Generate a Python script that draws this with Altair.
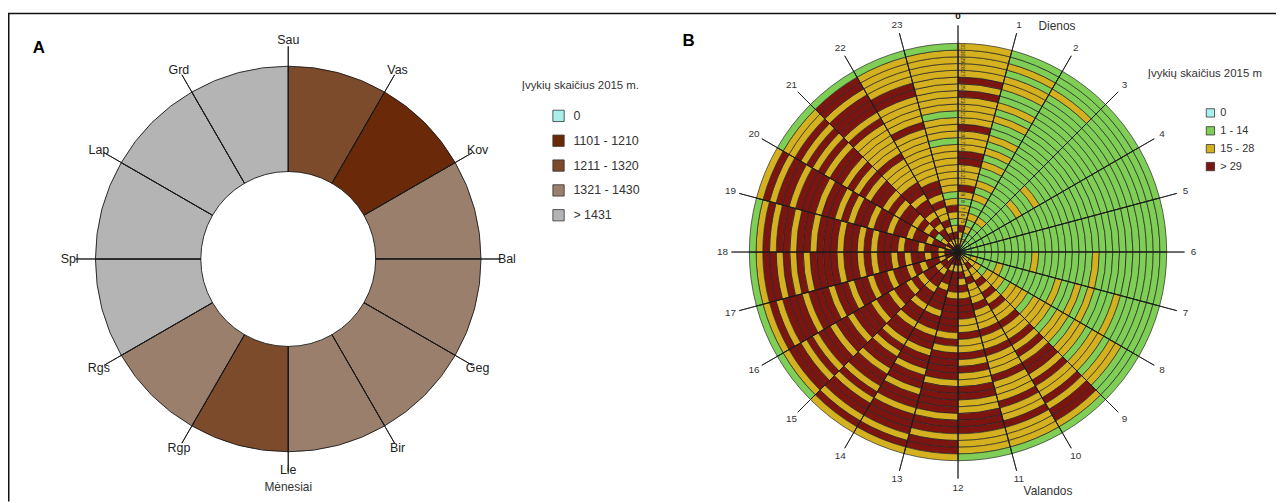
import math
import altair as alt
import pandas as pd

FONT = "Liberation Sans"
OFF = 8  # page margin

# ---------------- Panel A data (months) ----------------
MONTHS = ["Sau", "Vas", "Kov", "Bal", "Geg", "Bir", "Lie", "Rgp", "Rgs", "Spl", "Lap", "Grd"]
MONTH_EVENTS = [1265, 1150, 1385, 1370, 1400, 1395, 1290, 1380, 1470, 1495, 1480, 1455]
A_CLASSES = ["0", "1101 - 1210", "1211 - 1320", "1321 - 1430", "> 1431"]
A_COLORS = ["#a9efe9", "#6a2a09", "#7b4b2c", "#9b7f6d", "#b4b4b4"]

# ---------------- Panel B data (hour x day) ----------------
HOURS = list(range(24))
DAYS = list(range(1, 32))
B_CLASSES = ["0", "1 - 14", "15 - 28", "> 29"]
B_COLORS = ["#aaf0f0", "#7fcf56", "#d5b01f", "#7c1410"]
B_CODES = {"Z": "0", "G": "1 - 14", "Y": "15 - 28", "R": "> 29"}
# one string per hour, one letter per day (day 1 = inner ring ... day 31 = outer ring)
HOUR_DAYS = [
    "YYYRY" "YYGYR" "YYYRR" "YYYRY" "YYYRY" "RYYYY" "Y",  # 0
    "GYGYG" "YGGYG" "YGGYG" "YGYGG" "YGYGG" "YYGYG" "G",  # 1
    "GGGGG" "YGGGG" "GGGGG" "GGGGG" "GGGGG" "GGYGG" "G",  # 2
    "GGGGG" "GGGGG" "YGGYG" "GGGGG" "GGGGG" "GGGGG" "G",  # 3
    "GGGGG" "GGGGG" "GGGGG" "GGGGG" "GGGGG" "GGGGG" "G",  # 4
    "GGGGG" "GGGGG" "GGGGG" "GGGGG" "GGGGG" "GGGGG" "G",  # 5
    "GGGGG" "GGGGG" "GYGGG" "GGGGG" "YGGGG" "GGGGG" "G",  # 6
    "GGYGG" "GYGGG" "GGGGG" "YGGYG" "YGGGY" "GGGGG" "G",  # 7
    "YYYYG" "YYYGY" "YYGYY" "YGYYG" "YYGYY" "GYYGG" "G",  # 8
    "YYRYY" "RYRYR" "YYRYY" "RYRYR" "RYRYY" "RYRRY" "G",  # 9
    "YYYYR" "YYYRY" "YYRYY" "RYYYR" "YYYRY" "YRYYY" "G",  # 10
    "YRYRY" "RYRRR" "YYRYY" "RYRYY" "RRYYR" "RRYYY" "G",  # 11
    "RRYRR" "RYRRR" "RRYRY" "RRRRY" "RRRRY" "RRYRR" "Y",  # 12
    "RRYRR" "YRRRY" "RRYRR" "YRRYR" "RYRRY" "RRRYR" "Y",  # 13
    "RRRYR" "RYRRY" "RRYRR" "YRYRR" "YRRYR" "YRRYR" "Y",  # 14
    "RYRYR" "RYRYR" "RYRRY" "RRRYR" "RYRRY" "RYRRY" "G",  # 15
    "RRYRR" "YRYRR" "YRRYR" "RYRRY" "RRRYR" "RRYRY" "G",  # 16
    "RRYRY" "RRYRY" "RRYRY" "RRYRR" "RRYRY" "RYRRY" "G",  # 17
    "YRYRR" "YRRYR" "RRYRY" "RRYRR" "RYRRY" "RRYRY" "G",  # 18
    "RYRRY" "RRYRR" "YRRYR" "RYRYR" "RYRRR" "YRRYR" "Y",  # 19
    "RRYGR" "YRYRR" "YRYRR" "YRYRY" "RRYRY" "RYRYY" "G",  # 20
    "RYRRY" "RYRRY" "RRYYY" "YRYYY" "YYRYR" "RRYRR" "G",  # 21
    "RYRYR" "YYRYR" "RYYYY" "YYYYR" "YYYYR" "RYYYY" "G",  # 22
    "RYRYG" "YRYGY" "YYYYY" "YGYYY" "GYYYY" "YYYYY" "G",  # 23
]

# ---------------- geometry (page px -> chart px) ----------------
AX, AY = 290 - OFF, 259 - OFF
A_R_OUT, A_R_IN, A_LINE_R, A_LAB_R, A_LAB_R_BOTTOM = 194, 88, 214, 220, 212
BX, BY = 964 - OFF, 252 - OFF
B_R, B_LINE_R, B_LAB_R = 210, 228, 237
W, H = 1284 - OFF, 503 - OFF


def a_class(v):
    if v == 0:
        return A_CLASSES[0]
    if v <= 1210:
        return A_CLASSES[1]
    if v <= 1320:
        return A_CLASSES[2]
    if v <= 1430:
        return A_CLASSES[3]
    return A_CLASSES[4]


df_a = pd.DataFrame({"month": MONTHS, "events": MONTH_EVENTS})
df_a["m0"] = list(range(len(MONTHS)))
df_a["m1"] = df_a["m0"] + 1
df_a["cls"] = df_a["events"].map(a_class)

rows = []
for h, s in zip(HOURS, HOUR_DAYS):
    for d, c in zip(DAYS, s):
        rows.append({"h0": h, "h1": h + 1, "d0": d - 1, "d1": d, "cls": B_CODES[c]})
df_b = pd.DataFrame(rows)
df_h = pd.DataFrame({"h": HOURS, "lab": [str(h) for h in HOURS]})
df_d = pd.DataFrame({"day": DAYS, "mid": [d - 0.5 for d in DAYS], "lab": [str(d) for d in DAYS]})
dummy = pd.DataFrame({"k": [0]})

theta_a = alt.Scale(domain=[0, 12], range=[0, 2 * math.pi], nice=False)
theta_b = alt.Scale(domain=[0, 24], range=[0, 2 * math.pi], nice=False)
rad_b = alt.Scale(type="linear", domain=[0, 31], range=[0, B_R], nice=False)

# ---- Panel A
a_cells = alt.Chart(df_a).mark_arc(stroke="#1a1a1a", strokeWidth=0.9).encode(
    x=alt.value(AX), y=alt.value(AY),
    theta=alt.Theta("m0:Q", scale=theta_a, stack=False), theta2="m1:Q",
    radius=alt.value(A_R_OUT), radius2=alt.value(A_R_IN),
    color=alt.Color("cls:N", scale=alt.Scale(domain=A_CLASSES, range=A_COLORS), legend=None),
)
a_lines = alt.Chart(df_a).mark_arc(stroke="#1a1a1a", strokeWidth=0.9, fillOpacity=0).encode(
    x=alt.value(AX), y=alt.value(AY),
    theta=alt.Theta("m0:Q", scale=theta_a, stack=False), theta2="m0:Q",
    radius=alt.value(A_LINE_R), radius2=alt.value(A_R_IN),
)
a_labels = alt.Chart(df_a).transform_filter("datum.m0 != 6").mark_text(
    radius=A_LAB_R, font=FONT, fontSize=12.5, color="#222").encode(
    x=alt.value(AX), y=alt.value(AY),
    theta=alt.Theta("m0:Q", scale=theta_a, stack=False), text="month:N",
)
a_label_bottom = alt.Chart(df_a).transform_filter("datum.m0 == 6").mark_text(
    radius=A_LAB_R_BOTTOM, font=FONT, fontSize=12.5, color="#222").encode(
    x=alt.value(AX), y=alt.value(AY),
    theta=alt.Theta("m0:Q", scale=theta_a, stack=False), text="month:N",
)

# ---- Panel B
b_cells = alt.Chart(df_b).mark_arc(stroke="#262626", strokeWidth=0.7).encode(
    x=alt.value(BX), y=alt.value(BY),
    theta=alt.Theta("h0:Q", scale=theta_b, stack=False), theta2="h1:Q",
    radius=alt.Radius("d1:Q", scale=rad_b), radius2="d0:Q",
    color=alt.Color("cls:N", scale=alt.Scale(domain=B_CLASSES, range=B_COLORS), legend=None),
)
b_lines = alt.Chart(df_h).mark_arc(stroke="#1a1a1a", strokeWidth=0.8, fillOpacity=0).encode(
    x=alt.value(BX), y=alt.value(BY),
    theta=alt.Theta("h:Q", scale=theta_b, stack=False), theta2="h:Q",
    radius=alt.value(B_LINE_R), radius2=alt.value(0),
)
b_labels = alt.Chart(df_h).transform_filter("datum.h > 0").mark_text(
    radius=B_LAB_R, font=FONT, fontSize=10, color="#333").encode(
    x=alt.value(BX), y=alt.value(BY),
    theta=alt.Theta("h:Q", scale=theta_b, stack=False), text="lab:N",
)
b_zero = alt.Chart(df_h).transform_filter("datum.h == 0").mark_text(
    radius=B_LAB_R, font=FONT, fontSize=10, fontWeight="bold", color="#111").encode(
    x=alt.value(BX), y=alt.value(BY),
    theta=alt.Theta("h:Q", scale=theta_b, stack=False), text="lab:N",
)
b_days = alt.Chart(df_d).mark_text(font=FONT, fontSize=5.5, angle=90, color="#333").encode(
    x=alt.value(BX + 5),
    y=alt.Y("mid:Q", scale=alt.Scale(domain=[0, 31], range=[BY, BY - B_R], nice=False), axis=None),
    text="lab:N",
)


def txt(t, x, y, size=12, weight="normal", align="center", color="#333"):
    return alt.Chart(dummy).mark_text(
        text=t, font=FONT, fontSize=size, fontWeight=weight, align=align,
        baseline="middle", color=color,
    ).encode(x=alt.value(x - OFF), y=alt.value(y - OFF))


def legend(classes, colors, x_sq, x_txt, y_first, y_last, sq_size, font_size):
    df = pd.DataFrame({"cls": classes, "i": list(range(len(classes)))})
    ys = alt.Scale(domain=[0, len(classes) - 1], range=[y_first - OFF, y_last - OFF], nice=False)
    sq = alt.Chart(df).mark_square(size=sq_size, stroke="#333", strokeWidth=0.8, opacity=1).encode(
        x=alt.value(x_sq - OFF),
        y=alt.Y("i:Q", scale=ys, axis=None),
        fill=alt.Fill("cls:N", scale=alt.Scale(domain=classes, range=colors), legend=None),
    )
    tx = alt.Chart(df).mark_text(align="left", baseline="middle", font=FONT,
                                 fontSize=font_size, color="#333").encode(
        x=alt.value(x_txt - OFF),
        y=alt.Y("i:Q", scale=ys, axis=None),
        text="cls:N",
    )
    return [sq, tx]


frame_top = alt.Chart(dummy).mark_rule(color="#111", strokeWidth=1.5).encode(
    x=alt.value(0), x2=alt.value(W), y=alt.value(4))
frame_left = alt.Chart(dummy).mark_rule(color="#111", strokeWidth=1.5).encode(
    x=alt.value(0.75), y=alt.value(4), y2=alt.value(H))

layers = [
    frame_top, frame_left,
    a_cells, a_lines, a_labels, a_label_bottom,
    b_cells, b_lines, b_labels, b_zero, b_days,
    txt("A", 39, 47, size=17, weight="bold", color="#000"),
    txt("B", 693, 40, size=17, weight="bold", color="#000"),
    txt("Mėnesiai", 290, 488, size=12),
    txt("Dienos", 1045, 25, size=12, align="left"),
    txt("Valandos", 1030, 493, size=12, align="left"),
    txt("Įvykių skaičius 2015 m.", 525, 85, size=11.5, align="left"),
    txt("Įvykių skaičius 2015 m", 1155, 73, size=11.5, align="left"),
]
layers += legend(A_CLASSES, A_COLORS, 562, 577, 115, 215, 130, 12.5)
layers += legend(B_CLASSES, B_COLORS, 1218, 1228, 112, 166, 70, 11)

chart = alt.layer(*layers).resolve_scale(
    theta="independent", radius="independent", color="independent",
    fill="independent", y="independent",
).properties(
    width=W, height=H, padding=0, autosize="none",
).configure_view(stroke=None)

chart.save("out.html", embed_options={"renderer": "svg", "actions": False})
